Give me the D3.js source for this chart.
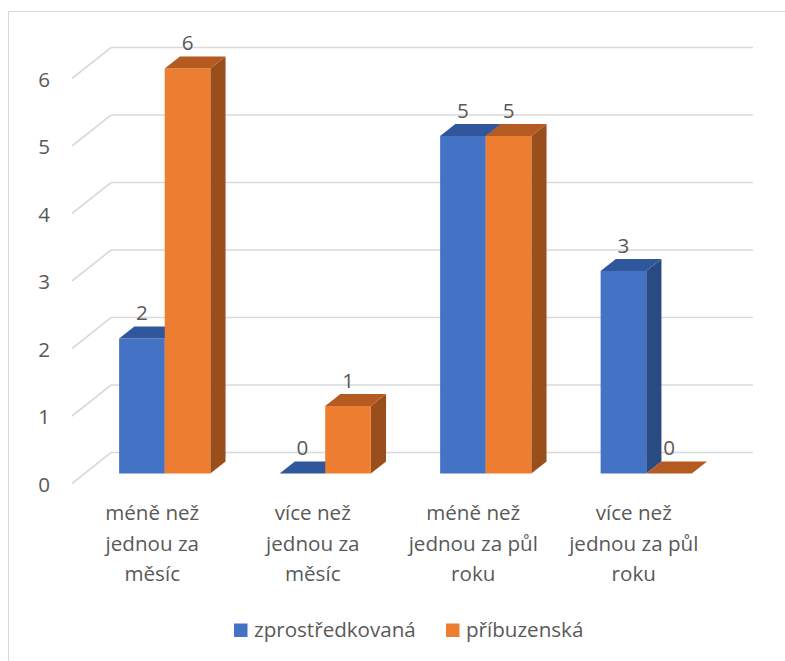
<!DOCTYPE html>
<html><head><meta charset="utf-8">
<script src="https://cdn.jsdelivr.net/npm/d3@7"></script>
<style>body{margin:0;background:#fff}text{font-family:"Open Sans",sans-serif;fill:#595959}</style>
</head><body><svg id="c" width="785" height="661"></svg>
<script>
const categories = [["méně než","jednou za","měsíc"],["více než","jednou za","měsíc"],["méně než","jednou za půl","roku"],["více než","jednou za půl","roku"]];
const series = ["zprostředkovaná","příbuzenská"];
const valuesZpro = [2,0,5,3];
const valuesPrib = [6,1,5,0];
const yTicks = [0,1,2,3,4,5,6];
const colors = {front:["#4472C4","#ED7D31"], top:["#30569B","#B55A20"], side:["#2A4A84","#9A4E1C"]};

const svg = d3.select("#c");
const fs = 20.6;
svg.append("rect").attr("x",8.5).attr("y",11.5).attr("width",900).attr("height",900).attr("fill","none").attr("stroke","#d9d9d9").attr("stroke-width",1);

const catKeys = categories.map((c,i)=>i);
const x = d3.scaleBand().domain(catKeys).range([72,714]);
const y = d3.scaleLinear().domain([0,6]).range([483.5,78.5]);
const DX = 39, DY = -31;
const P = (px, v, t) => [px + t*DX, y(v) + t*DY];
const xs = d3.scaleBand().domain(series).range([-45.6,45.6]);
const t0 = 0.32, t1 = 0.71;

const g = svg.append("g");
yTicks.forEach(v=>{
  const a = P(72,v,0), b = P(72,v,1), c = P(714,v,1);
  g.append("polyline").attr("points",[a,b,c].map(p=>p.join(",")).join(" "))
    .attr("fill","none").attr("stroke","#d9d9d9").attr("stroke-width",1.6);
});
svg.append("g").selectAll("text").data(yTicks).join("text")
  .attr("x",50).attr("y",d=>y(d)+8).attr("text-anchor","end").attr("font-size",fs).text(d=>d);

const data = [];
catKeys.forEach(i=>{
  series.forEach((s,si)=>{
    data.push({cat:i, s, si, v: si===0?valuesZpro[i]:valuesPrib[i]});
  });
});
const bars = svg.append("g");
const pts = arr => arr.map(p=>p.join(",")).join(" ");
data.forEach(d=>{
  const cx = x(d.cat) + x.bandwidth()/2;
  const xl = cx + xs(d.s), xr = xl + xs.bandwidth();
  const gb = bars.append("g");
  if (d.v > 0) {
    gb.append("polygon").attr("points",pts([P(xr,0,t0),P(xr,0,t1),P(xr,d.v,t1),P(xr,d.v,t0)])).attr("fill",colors.side[d.si]);
    gb.append("polygon").attr("points",pts([P(xl,0,t0),P(xr,0,t0),P(xr,d.v,t0),P(xl,d.v,t0)])).attr("fill",colors.front[d.si]);
  }
  gb.append("polygon").attr("points",pts([P(xl,d.v,t0),P(xr,d.v,t0),P(xr,d.v,t1),P(xl,d.v,t1)])).attr("fill",colors.top[d.si]);
  const lp = P((xl+xr)/2, d.v, t0);
  const bt = P(0, d.v, t1)[1];
  svg.append("text").attr("x",lp[0]).attr("y",bt-6).attr("text-anchor","middle").attr("font-size",fs).text(d.v);
});

categories.forEach((lines,i)=>{
  const cx = x(i)+x.bandwidth()/2;
  const t = svg.append("text").attr("text-anchor","middle").attr("font-size",fs);
  lines.forEach((l,j)=>t.append("tspan").attr("x",cx).attr("y",520+j*30.5).text(l));
});

const leg = [{x:234,tx:254},{x:446,tx:466}];
series.forEach((s,i)=>{
  svg.append("rect").attr("x",leg[i].x).attr("y",623.5).attr("width",13.5).attr("height",13.5).attr("fill",colors.front[i]);
  svg.append("text").attr("x",leg[i].tx).attr("y",637).attr("font-size",fs).text(s);
});
</script></body></html>
